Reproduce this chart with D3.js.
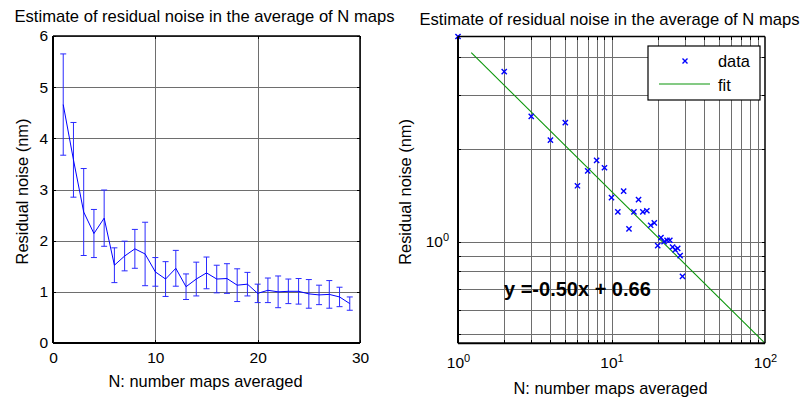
<html>
<head>
    <style>
        body { margin: 0; background: #ffffff; font-family: "Liberation Sans", Arial, Helvetica, sans-serif; }
        svg { display: block; }
        .tick line { shape-rendering: crispEdges; }
    </style>
    <script src="https://cdn.jsdelivr.net/npm/d3@7"></script>
</head>
<body>
<svg id="grafico"></svg>

<script>
    // N maps averaged and the noise estimate
    let nMaps = [1, 2, 3, 4, 5, 6, 7, 8, 9, 10, 11, 12, 13, 14, 15, 16, 17, 18, 19, 20, 21, 22, 23, 24, 25, 26, 27, 28, 29];
    let noiseMean = [4.66, 3.58, 2.56, 2.14, 2.44, 1.52, 1.70, 1.84, 1.74, 1.39, 1.25, 1.46, 1.10, 1.25, 1.37,
                     1.25, 1.26, 1.13, 1.15, 0.97, 1.03, 1.00, 1.01, 1.01, 0.96, 0.94, 0.95, 0.90, 0.77];
    let noiseErr = [0.99, 0.73, 0.85, 0.47, 0.55, 0.34, 0.29, 0.38, 0.62, 0.28, 0.34, 0.35, 0.25, 0.33, 0.31,
                    0.27, 0.29, 0.32, 0.23, 0.18, 0.24, 0.31, 0.24, 0.25, 0.28, 0.19, 0.27, 0.19, 0.13];

    // fit line end points (log-log plot)
    let fitX = [1.22, 100];
    let fitY = [4.13, 0.457];
    let fitLabel = "y =-0.50x + 0.66";

    let linTicksX = [0, 10, 20, 30];
    let linTicksY = [0, 1, 2, 3, 4, 5, 6];
    let logTicksX = [1, 10, 100];
    let logMinorX = [2, 3, 4, 5, 6, 7, 8, 9, 10, 20, 30, 40, 50, 60, 70, 80, 90];
    let logTicksY = [1];
    let logMinorY = [0.5, 0.6, 0.7, 0.8, 0.9, 1, 2, 3, 4];

    let title = "Estimate of residual noise in the average of N maps";
    let xLabel = "N: number maps averaged";
    let yLabel = "Residual noise (nm)";

    let svg = d3.select("#grafico").attr("width", 809).attr("height", 397);

    function drawGrid(g, sx, sy, xVals, yVals, box) {
        g.append("g")
            .attr("transform", `translate(0,${box.bottom})`)
            .call(d3.axisBottom(sx).tickValues(xVals).tickSize(-(box.bottom - box.top)).tickFormat(""))
            .call(a => a.select(".domain").remove())
            .selectAll("line").attr("stroke", "#6e6e6e");
        g.append("g")
            .attr("transform", `translate(${box.left},0)`)
            .call(d3.axisLeft(sy).tickValues(yVals).tickSize(-(box.right - box.left)).tickFormat(""))
            .call(a => a.select(".domain").remove())
            .selectAll("line").attr("stroke", "#6e6e6e");
    }

    function drawFrame(g, sx, sy, xVals, yVals, box) {
        // small inward ticks on all four sides
        let t = 3;
        g.append("g").attr("transform", `translate(0,${box.bottom})`)
            .call(d3.axisTop(sx).tickValues(xVals).tickSize(t).tickFormat(""))
            .call(a => a.select(".domain").remove());
        g.append("g").attr("transform", `translate(0,${box.top})`)
            .call(d3.axisBottom(sx).tickValues(xVals).tickSize(t).tickFormat(""))
            .call(a => a.select(".domain").remove());
        g.append("g").attr("transform", `translate(${box.left},0)`)
            .call(d3.axisRight(sy).tickValues(yVals).tickSize(t).tickFormat(""))
            .call(a => a.select(".domain").remove());
        g.append("g").attr("transform", `translate(${box.right},0)`)
            .call(d3.axisLeft(sy).tickValues(yVals).tickSize(t).tickFormat(""))
            .call(a => a.select(".domain").remove());

        g.append("line").attr("x1", box.left).attr("x2", box.right).attr("y1", box.top).attr("y2", box.top)
            .attr("stroke", "#000").attr("stroke-width", 1.5);
        g.append("line").attr("x1", box.right).attr("x2", box.right).attr("y1", box.top).attr("y2", box.bottom)
            .attr("stroke", "#000").attr("stroke-width", 1.5);
        g.append("line").attr("x1", box.left).attr("x2", box.right).attr("y1", box.bottom).attr("y2", box.bottom)
            .attr("stroke", "#000").attr("stroke-width", 2);
        g.append("line").attr("x1", box.left).attr("x2", box.left).attr("y1", box.top).attr("y2", box.bottom)
            .attr("stroke", "#000").attr("stroke-width", 2);
    }

    function drawTexts(g, box, titleY, xLabelY, yLabelX) {
        let cx = (box.left + box.right) / 2;
        let cy = (box.top + box.bottom) / 2;
        g.append("text").attr("x", cx - 2).attr("y", titleY).attr("text-anchor", "middle")
            .attr("font-size", 16.6).attr("fill", "#000").text(title);
        g.append("text").attr("x", cx - 1).attr("y", xLabelY).attr("text-anchor", "middle")
            .attr("font-size", 16.4).attr("fill", "#000").text(xLabel);
        g.append("text").attr("transform", `translate(${yLabelX},${cy + 2}) rotate(-90)`)
            .attr("text-anchor", "middle").attr("font-size", 16.4).attr("fill", "#000").text(yLabel);
    }

    function styleTicks(sel) {
        sel.attr("font-size", 15.5).attr("font-family", "Liberation Sans, Arial").attr("fill", "#000");
    }

    function drawLinearPlot() {
        let box = { left: 53, right: 360, top: 36, bottom: 343 };
        let sx = d3.scaleLinear().domain([0, 30]).range([box.left, box.right]);
        let sy = d3.scaleLinear().domain([0, 6]).range([box.bottom, box.top]);
        let g = svg.append("g");

        drawGrid(g, sx, sy, linTicksX, linTicksY, box);

        let data = nMaps.map((n, i) => ({ n: n, m: noiseMean[i], e: noiseErr[i] }));
        let bars = g.append("g").attr("stroke", "#2a2aff").attr("stroke-width", 1);
        bars.selectAll(".barra").data(data).enter().append("path")
            .attr("fill", "none")
            .attr("d", d => {
                let x = sx(d.n), y0 = sy(d.m - d.e), y1 = sy(d.m + d.e);
                return `M${x},${y0}V${y1}M${x - 3},${y1}H${x + 3}M${x - 3},${y0}H${x + 3}`;
            });

        let line = d3.line().x(d => sx(d.n)).y(d => sy(d.m));
        g.append("path").datum(data).attr("d", line)
            .attr("fill", "none").attr("stroke", "#0000ff").attr("stroke-width", 1);

        drawFrame(g, sx, sy, linTicksX, linTicksY, box);

        g.append("g").attr("transform", `translate(0,${box.bottom})`)
            .call(d3.axisBottom(sx).tickValues(linTicksX).tickFormat(d3.format("d")).tickSize(0).tickPadding(9))
            .call(a => a.select(".domain").remove())
            .selectAll("text").call(styleTicks);
        g.append("g").attr("transform", `translate(${box.left},0)`)
            .call(d3.axisLeft(sy).tickValues(linTicksY).tickFormat(d3.format("d")).tickSize(0).tickPadding(5))
            .call(a => a.select(".domain").remove())
            .selectAll("text").call(styleTicks);

        drawTexts(g, box, 22, 387, 28);
    }

    function powerLabel(sel) {
        sel.each(function (d) {
            let t = d3.select(this);
            t.text("");
            t.append("tspan").text("10");
            t.append("tspan").attr("dy", "-0.55em").attr("font-size", 11).text(Math.round(Math.log10(d)));
        });
    }

    function drawLogPlot() {
        let box = { left: 458, right: 765, top: 36.5, bottom: 343.3 };
        let sx = d3.scaleLog().domain([1, 100]).range([box.left, box.right]);
        let sy = d3.scaleLog().domain([0.466, 4.66]).range([box.bottom, box.top]);
        let g = svg.append("g");

        drawGrid(g, sx, sy, logMinorX, logMinorY, box);

        g.append("text").attr("x", 504).attr("y", 296).attr("font-size", 20).attr("font-weight", "bold")
            .attr("fill", "#000").text(fitLabel);

        let fit = fitX.map((x, i) => [x, fitY[i]]);
        g.append("path").datum(fit)
            .attr("d", d3.line().x(d => sx(d[0])).y(d => Math.min(sy(d[1]), box.bottom)))
            .attr("fill", "none").attr("stroke", "#0a960a").attr("stroke-width", 1.1);

        let marcas = g.append("g").attr("stroke", "#0000ff").attr("stroke-width", 1.4).attr("fill", "none");
        marcas.selectAll(".marca").data(nMaps).enter().append("path")
            .attr("d", (n, i) => {
                let x = sx(n), y = sy(noiseMean[i]), r = 2.6;
                return `M${x - r},${y - r}L${x + r},${y + r}M${x - r},${y + r}L${x + r},${y - r}`;
            });

        drawFrame(g, sx, sy, logMinorX, logMinorY, box);

        g.append("g").attr("transform", `translate(0,${box.bottom})`)
            .call(d3.axisBottom(sx).tickValues(logTicksX).tickSize(0).tickPadding(14))
            .call(a => a.select(".domain").remove())
            .selectAll("text").call(styleTicks)
            .call(powerLabel);
        g.append("g").attr("transform", `translate(${box.left},0)`)
            .call(d3.axisLeft(sy).tickValues(logTicksY).tickSize(0).tickPadding(9))
            .call(a => a.select(".domain").remove())
            .selectAll("text").call(styleTicks)
            .call(powerLabel);

        // legend
        let ley = g.append("g");
        ley.append("rect").attr("x", 648).attr("y", 46).attr("width", 112).attr("height", 54)
            .attr("fill", "#fff").attr("stroke", "#000").attr("stroke-width", 1.2);
        ley.append("path").attr("d", "M682.5,58.5L687.5,63.5M682.5,63.5L687.5,58.5")
            .attr("stroke", "#0000ff").attr("stroke-width", 1.4);
        ley.append("line").attr("x1", 659).attr("x2", 710).attr("y1", 84).attr("y2", 84)
            .attr("stroke", "#0a960a").attr("stroke-width", 1.1);
        ley.append("text").attr("x", 718).attr("y", 67).attr("font-size", 16.4).attr("fill", "#000").text("data");
        ley.append("text").attr("x", 718).attr("y", 91).attr("font-size", 16.4).attr("fill", "#000").text("fit");

        drawTexts(g, box, 25, 394, 411);
    }

    drawLinearPlot();
    drawLogPlot();
</script>
</body>
</html>
